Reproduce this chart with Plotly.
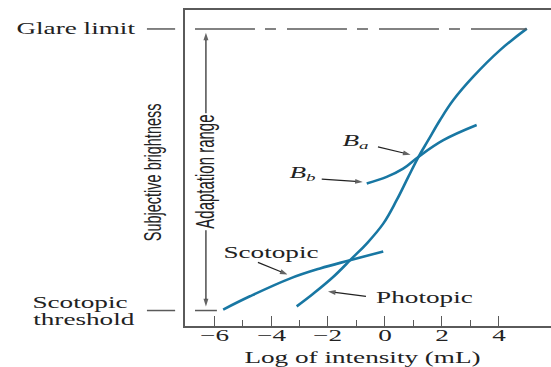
import plotly.graph_objects as go

# Subjective brightness (arbitrary units) against log of intensity (mL)
photopic_x = [-3.10, -2.52, -1.82, -1.17, -0.64, -0.06, 0.41, 0.82, 1.17, 1.52, 1.93, 2.40, 3.10, 4.04, 4.98]
photopic_y = [0.62, 1.02, 1.55, 2.13, 2.61, 3.24, 3.98, 4.72, 5.34, 5.88, 6.51, 7.15, 7.89, 8.73, 9.41]

scotopic_x = [-5.68, -4.74, -3.34, -2.28, -1.23, -0.06]
scotopic_y = [0.52, 0.94, 1.50, 1.82, 2.08, 2.36]

# brightness curve for an eye adapted at level B_a
adapted_x = [-0.64, 0.06, 0.64, 1.17, 2.05, 3.22]
adapted_y = [4.51, 4.72, 4.98, 5.35, 5.88, 6.36]

tick_vals = [-6, -4, -2, 0, 2, 4]
tick_text = ["−6", "−4", "−2", "0", "2", "4"]
minor_vals = [-5, -3, -1, 1, 3]

glare_level = 9.40
threshold_level = 0.49

CURVE = "#1877a3"
GREY = "#5a5a5a"
INK = "#222222"
SERIF = "Liberation Serif, Times New Roman, serif"
SANS = "Liberation Sans, Arial, sans-serif"

fig = go.Figure()
for xs, ys in [(photopic_x, photopic_y), (scotopic_x, scotopic_y), (adapted_x, adapted_y)]:
    fig.add_trace(go.Scatter(x=xs, y=ys, mode="lines",
                             line=dict(color=CURVE, width=2.6, shape="spline", smoothing=1.1),
                             hoverinfo="skip", showlegend=False))


def arrow(tail, head):
    """Thin pointer line from tail to head with a filled arrowhead at the head."""
    fig.add_trace(go.Scatter(
        x=[tail[0], head[0]], y=[tail[1], head[1]], mode="lines+markers",
        line=dict(color=INK, width=1.2),
        marker=dict(symbol=["circle", "arrow"], size=[0, 8], angleref="previous",
                    color=INK, line=dict(width=0)),
        hoverinfo="skip", showlegend=False))


adapt_mid = (-6.285, 4.9)
arrow(adapt_mid, (-6.285, 9.28))
arrow(adapt_mid, (-6.285, 0.62))
arrow((-0.246, 5.67), (0.90, 5.42))    # B_a
arrow((-2.22, 4.645), (-0.78, 4.56))   # B_b
arrow((-4.46, 2.015), (-3.42, 1.63))   # scotopic
arrow((-0.667, 0.94), (-2.00, 1.09))   # photopic

shapes = [
    # glare limit, dash-dot inside the frame
    dict(type="line", xref="x", yref="y", x0=-6.67, x1=photopic_x[-1], y0=glare_level, y1=glare_level,
         line=dict(color=GREY, width=1.5, dash="60px,10px,11px,11px")),
    # scotopic threshold stub inside the frame
    dict(type="line", xref="x", yref="y", x0=-6.67, x1=-5.90, y0=threshold_level, y1=threshold_level,
         line=dict(color=GREY, width=1.5)),
    # leader ticks outside the frame
    dict(type="line", xref="paper", yref="y", x0=-0.104, x1=-0.027, y0=glare_level, y1=glare_level,
         line=dict(color=GREY, width=1.5)),
    dict(type="line", xref="paper", yref="y", x0=-0.104, x1=-0.027, y0=threshold_level, y1=threshold_level,
         line=dict(color=GREY, width=1.5)),
]


def label(text, x, y, size=16, xref="x", yref="y", **kw):
    return dict(text=text, x=x, y=y, xref=xref, yref=yref, showarrow=False,
                xanchor="center", yanchor="middle",
                font=dict(family=kw.pop("family", SERIF), size=size, color=INK), **kw)


annotations = [
    label("Glare limit", -0.299, glare_level, xref="paper"),
    label("Scotopic", -0.287, 0.73, xref="paper"),
    label("threshold", -0.276, 0.22, xref="paper"),
    label("Subjective brightness", -0.0888, 4.88, size=14.5, xref="paper", family=SANS, textangle=-90),
    label("Adaptation range", -6.32, 4.88, size=15, family=SANS, textangle=-90, bgcolor="white"),
    label("<i>B</i><sub><i>a</i></sub>", -1.02, 5.85),
    label("<i>B</i><sub><i>b</i></sub>", -2.88, 4.83),
    label("Scotopic", -4.0, 2.31),
    label("Photopic", 1.40, 0.886),
    label("Log of intensity (mL)", 0.486, -0.100, xref="paper", yref="paper"),
]
# x tick labels
for v, t in zip(tick_vals, tick_text):
    annotations.append(label(t, v, -0.0316, yref="paper"))

fig.update_layout(
    width=551, height=367,
    margin=dict(l=185, r=0, t=10, b=41),
    paper_bgcolor="white", plot_bgcolor="white",
    shapes=shapes, annotations=annotations,
    xaxis=dict(range=[-7.02, 5.83], showgrid=False, zeroline=False,
               showline=True, linecolor=GREY, linewidth=1.5, mirror=True,
               tickmode="array", tickvals=tick_vals, showticklabels=False,
               ticks="inside", ticklen=10, tickwidth=1.4, tickcolor=GREY,
               minor=dict(tickmode="array", tickvals=minor_vals, ticks="inside",
                          ticklen=6, tickwidth=1.4, tickcolor=GREY, showgrid=False)),
    yaxis=dict(range=[0, 10], showgrid=False, zeroline=False, showticklabels=False,
               showline=True, linecolor=GREY, linewidth=2, ticks=""),
)

# widen every text run horizontally about its own centre (wide typeface look)
stretch_js = """
var gd = document.getElementById('{plot_id}');
var S = 1.7;
gd.querySelectorAll('text').forEach(function (el) {
  var bb;
  try { bb = el.getBBox(); } catch (e) { return; }
  if (!bb || bb.width === 0) return;
  var M = el.getCTM();
  if (!M) return;
  var svg = el.ownerSVGElement;
  var p = svg.createSVGPoint();
  p.x = bb.x + bb.width / 2; p.y = bb.y + bb.height / 2;
  var c = p.matrixTransform(M);
  var St = svg.createSVGMatrix().translate(c.x, c.y).scaleNonUniform(S, 1).translate(-c.x, -c.y);
  var L = M.inverse().multiply(St).multiply(M);
  var old = el.getAttribute('transform') || '';
  el.setAttribute('transform', old + ' matrix(' + [L.a, L.b, L.c, L.d, L.e, L.f].join(' ') + ')');
});
"""

fig.write_html("out.html", config=dict(displayModeBar=False, responsive=False),
               post_script=stretch_js)
